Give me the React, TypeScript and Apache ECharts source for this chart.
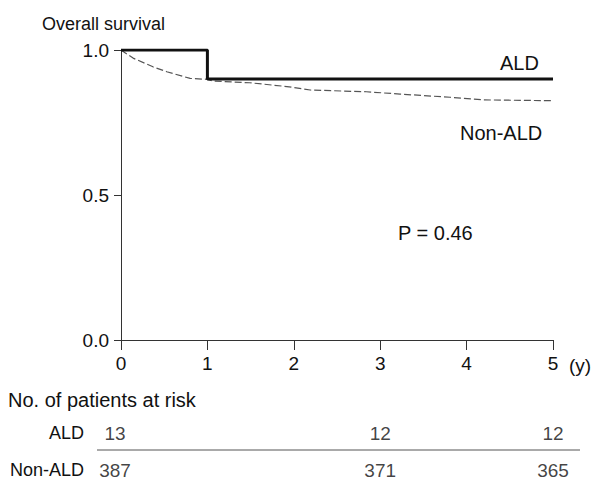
import React, { useEffect, useRef } from "react";
import * as echarts from "echarts";

const FONT = '"Liberation Sans", Arial, Helvetica, sans-serif';

const xTicks = [0, 1, 2, 3, 4, 5];
const yTicks = [0, 0.5, 1.0];

const aldTime = [0, 1, 5];
const aldSurv = [1.0, 0.9, 0.9];

const nonAldTime = [0, 0.14, 0.37, 0.53, 0.8, 0.99, 1.07, 1.49, 1.92, 2.19, 2.84, 3.23, 3.81, 4.19, 5.0];
const nonAldSurv = [1.0, 0.972, 0.942, 0.925, 0.902, 0.899, 0.893, 0.887, 0.874, 0.862, 0.856, 0.848, 0.837, 0.828, 0.825];

const riskTimes = [0, 3, 5];
const riskALD = [13, 12, 12];
const riskNonALD = [387, 371, 365];

export default function App() {
  const ref = useRef<HTMLDivElement>(null);
  useEffect(() => {
    document.body.style.margin = "0";
    const chart = echarts.init(ref.current!, null, { renderer: "svg" });
    const axisColor = "#333";
    const riskLabel = {
      show: true,
      position: "inside",
      formatter: (p: any) => String(p.value[2]),
      color: "#111",
      fontSize: 19,
      fontFamily: FONT,
    };
    const riskItem = (t: number, row: number, n: number) => ({
      value: [t, row, n],
      label: t === 0 ? { offset: [-6, 0] } : undefined,
    });
    const option: any = {
      animation: false,
      backgroundColor: "#fff",
      textStyle: { fontFamily: FONT },
      grid: [
        { left: 121, right: 41, top: 50, height: 290 },
        { left: 121, right: 41, top: 433, height: 37 },
      ],
      xAxis: [
        {
          type: "value",
          gridIndex: 0,
          min: xTicks[0],
          max: xTicks[xTicks.length - 1],
          interval: 1,
          axisLine: { show: true, lineStyle: { color: axisColor, width: 1 } },
          axisTick: { show: true, length: 10, lineStyle: { color: axisColor } },
          axisLabel: { margin: 14, color: "#111", fontSize: 19, fontFamily: FONT },
          splitLine: { show: false },
        },
        {
          type: "value",
          gridIndex: 1,
          min: xTicks[0],
          max: xTicks[xTicks.length - 1],
          show: false,
        },
      ],
      yAxis: [
        {
          type: "value",
          gridIndex: 0,
          min: yTicks[0],
          max: yTicks[yTicks.length - 1],
          interval: 0.5,
          axisLine: { show: true, lineStyle: { color: axisColor, width: 1 } },
          axisTick: { show: true, length: 7, lineStyle: { color: axisColor } },
          axisLabel: {
            margin: 12,
            color: "#111",
            fontSize: 19,
            fontFamily: FONT,
            formatter: (v: number) => v.toFixed(1),
          },
          splitLine: { show: false },
        },
        { type: "value", gridIndex: 1, min: 0, max: 1, show: false },
      ],
      series: [
        {
          name: "Non-ALD",
          type: "line",
          xAxisIndex: 0,
          yAxisIndex: 0,
          data: nonAldTime.map((t, i) => [t, nonAldSurv[i]]),
          showSymbol: false,
          lineStyle: { color: "#555", width: 1.2, type: [7, 3] },
          z: 2,
        },
        {
          name: "ALD",
          type: "line",
          step: "end",
          xAxisIndex: 0,
          yAxisIndex: 0,
          data: aldTime.map((t, i) => [t, aldSurv[i]]),
          showSymbol: false,
          lineStyle: { color: "#111", width: 3 },
          z: 3,
        },
        {
          name: "risk ALD",
          type: "scatter",
          xAxisIndex: 1,
          yAxisIndex: 1,
          data: riskTimes.map((t, i) => riskItem(t, 1, riskALD[i])),
          symbolSize: 1,
          itemStyle: { color: "rgba(0,0,0,0)" },
          label: riskLabel,
        },
        {
          name: "risk Non-ALD",
          type: "scatter",
          xAxisIndex: 1,
          yAxisIndex: 1,
          data: riskTimes.map((t, i) => riskItem(t, 0, riskNonALD[i])),
          symbolSize: 1,
          itemStyle: { color: "rgba(0,0,0,0)" },
          label: riskLabel,
        },
      ],
      graphic: [
        {
          type: "text",
          x: 42,
          y: 24,
          style: { text: "Overall survival", fontSize: 18, fontFamily: FONT, fill: "#111", textVerticalAlign: "middle" },
        },
        {
          type: "text",
          x: 569,
          y: 365,
          style: { text: "(y)", fontSize: 19, fontFamily: FONT, fill: "#111", textVerticalAlign: "middle" },
        },
        {
          type: "text",
          x: 500,
          y: 63,
          style: { text: "ALD", fontSize: 20, fontFamily: FONT, fill: "#111", textVerticalAlign: "middle" },
        },
        {
          type: "text",
          x: 460,
          y: 133,
          style: { text: "Non-ALD", fontSize: 20, fontFamily: FONT, fill: "#111", textVerticalAlign: "middle" },
        },
        {
          type: "text",
          x: 398,
          y: 233,
          style: { text: "P = 0.46", fontSize: 20, fontFamily: FONT, fill: "#111", textVerticalAlign: "middle" },
        },
        {
          type: "text",
          x: 8,
          y: 400,
          style: { text: "No. of patients at risk", fontSize: 20, fontFamily: FONT, fill: "#111", textVerticalAlign: "middle" },
        },
        {
          type: "text",
          x: 84,
          y: 433,
          style: { text: "ALD", fontSize: 18, fontFamily: FONT, fill: "#111", textAlign: "right", textVerticalAlign: "middle" },
        },
        {
          type: "text",
          x: 84,
          y: 470,
          style: { text: "Non-ALD", fontSize: 18, fontFamily: FONT, fill: "#111", textAlign: "right", textVerticalAlign: "middle" },
        },
        {
          type: "line",
          shape: { x1: 97, y1: 450, x2: 580, y2: 450 },
          style: { stroke: "#555", lineWidth: 1 },
        },
      ],
    };
    chart.setOption(option);
    return () => chart.dispose();
  }, []);
  return <div ref={ref} style={{ width: 594, height: 480 }} />;
}
